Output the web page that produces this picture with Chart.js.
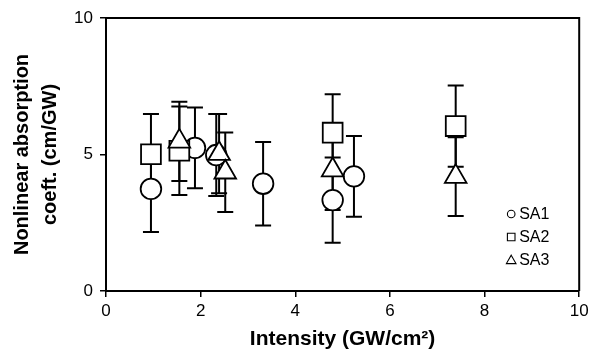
<!DOCTYPE html>
<html>
<head>
<meta charset="utf-8">
<script src="https://cdn.jsdelivr.net/npm/chart.js@4.4.1/dist/chart.umd.min.js"></script>
<style>
  html, body { margin: 0; padding: 0; background: #fff; }
  #wrap { width: 595px; height: 361px; }
</style>
</head>
<body>
<div id="wrap"><canvas id="chart"></canvas></div>
<script>
// Data (x: GW/cm2, y: cm/GW, err: +/- half length of error bar)
const sa1X = [0.95, 1.88, 2.33, 3.32, 4.79, 5.24];
const sa1Y = [3.74, 5.24, 4.98, 3.93, 3.33, 4.20];
const sa1Err = [1.58, 1.48, 1.50, 1.53, 1.56, 1.48];

const sa2X = [0.95, 1.55, 4.79, 7.39];
const sa2Y = [5.01, 5.14, 5.80, 6.04];
const sa2Err = [1.47, 1.62, 1.41, 1.49];

const sa3X = [1.55, 2.39, 2.52, 4.79, 7.39];
const sa3Y = [5.48, 5.03, 4.35, 4.43, 4.19];
const sa3Err = [1.45, 1.45, 1.46, 1.46, 1.44];

const seriesNames = ['SA1', 'SA2', 'SA3'];
const xTicks = [0, 2, 4, 6, 8, 10];
const yTicks = [0, 5, 10];

const FONT = "'Liberation Sans', Arial, sans-serif";

function toPoints(xs, ys, errs) {
    return xs.map((x, i) => ({ x: x, y: ys[i], err: errs[i] }));
}

// error bars drawn under the markers
const errorBars = {
    id: 'errorBars',
    beforeDatasetsDraw(chart) {
        const ctx = chart.ctx;
        const xs = chart.scales.x, ys = chart.scales.y;
        ctx.save();
        ctx.strokeStyle = '#000';
        ctx.lineWidth = 2;
        chart.data.datasets.forEach(ds => {
            ds.data.forEach(p => {
                const px = xs.getPixelForValue(p.x);
                const top = ys.getPixelForValue(p.y + p.err);
                const bot = ys.getPixelForValue(p.y - p.err);
                ctx.beginPath();
                ctx.moveTo(px, top); ctx.lineTo(px, bot);
                ctx.moveTo(px - 8, top); ctx.lineTo(px + 8, top);
                ctx.moveTo(px - 8, bot); ctx.lineTo(px + 8, bot);
                ctx.stroke();
            });
        });
        ctx.restore();
    }
};

// closes the box on top and right
const frame = {
    id: 'frame',
    beforeDatasetsDraw(chart) {
        const { ctx, chartArea } = chart;
        ctx.save();
        ctx.strokeStyle = '#000';
        ctx.lineWidth = 2;
        ctx.beginPath();
        ctx.moveTo(chartArea.left, chartArea.top);
        ctx.lineTo(chartArea.right, chartArea.top);
        ctx.lineTo(chartArea.right, chartArea.bottom);
        ctx.stroke();
        ctx.restore();
    }
};

// small legend in the lower right corner of the plot
const cornerLegend = {
    id: 'cornerLegend',
    afterDraw(chart) {
        const ctx = chart.ctx;
        const area = chart.chartArea;
        const mx = area.right - 68;
        const rows = [area.bottom - 77, area.bottom - 54, area.bottom - 31];
        ctx.save();
        ctx.strokeStyle = '#000';
        ctx.fillStyle = '#fff';
        ctx.lineWidth = 1.1;
        rows.forEach((y, i) => {
            ctx.beginPath();
            if (i === 0) {
                ctx.arc(mx, y, 3.8, 0, Math.PI * 2);
            } else if (i === 1) {
                ctx.rect(mx - 3.8, y - 3.8, 7.6, 7.6);
            } else {
                ctx.moveTo(mx, y - 4.8);
                ctx.lineTo(mx + 4.8, y + 3.6);
                ctx.lineTo(mx - 4.8, y + 3.6);
                ctx.closePath();
            }
            ctx.fill();
            ctx.stroke();
        });
        ctx.fillStyle = '#000';
        ctx.font = '16px ' + FONT;
        ctx.textBaseline = 'middle';
        ctx.textAlign = 'left';
        rows.forEach((y, i) => ctx.fillText(seriesNames[i], mx + 8, y + 1));
        ctx.restore();
    }
};

const ctx = document.getElementById('chart').getContext('2d');
new Chart(ctx, {
    type: 'scatter',
    data: {
        datasets: [{
            label: seriesNames[0],
            data: toPoints(sa1X, sa1Y, sa1Err),
            pointStyle: 'circle',
            pointRadius: 10.3,
            order: 2
        }, {
            label: seriesNames[1],
            data: toPoints(sa2X, sa2Y, sa2Err),
            pointStyle: 'rect',
            pointRadius: 14,
            order: 1
        }, {
            label: seriesNames[2],
            data: toPoints(sa3X, sa3Y, sa3Err),
            pointStyle: 'triangle',
            pointRadius: 12.5,
            order: 0
        }].map(ds => Object.assign(ds, {
            backgroundColor: '#fff',
            borderColor: '#000',
            borderWidth: 1.8,
            pointHoverRadius: ds.pointRadius,
            showLine: false
        }))
    },
    options: {
        responsive: true,
        maintainAspectRatio: false,
        animation: false,
        events: [],
        layout: { padding: { left: 0, right: 12, top: 18, bottom: 0 } },
        plugins: {
            legend: { display: false },
            tooltip: { enabled: false }
        },
        scales: {
            x: {
                type: 'linear',
                min: 0,
                max: 10,
                afterBuildTicks: (scale) => { scale.ticks = xTicks.map(v => ({ value: v })); },
                afterFit: (scale) => { scale.height = 70; },
                ticks: { color: '#000', font: { family: FONT, size: 17 }, padding: 4 },
                grid: { drawOnChartArea: false, drawTicks: true, tickLength: 6, color: '#000', lineWidth: 1.5 },
                border: { color: '#000', width: 2 },
                title: {
                    display: true,
                    text: 'Intensity (GW/cm²)',
                    color: '#000',
                    font: { family: FONT, size: 21, weight: 'bold', lineHeight: 1 },
                    padding: { top: 0, bottom: 11 }
                }
            },
            y: {
                type: 'linear',
                min: 0,
                max: 10,
                afterBuildTicks: (scale) => { scale.ticks = yTicks.map(v => ({ value: v })); },
                afterFit: (scale) => { scale.width = 106; },
                ticks: { color: '#000', font: { family: FONT, size: 17 }, padding: 7 },
                grid: { drawOnChartArea: false, drawTicks: true, tickLength: 6, color: '#000', lineWidth: 1.5 },
                border: { color: '#000', width: 2 },
                title: {
                    display: true,
                    text: ['Nonlinear absorption', 'coeft. (cm/GW)'],
                    color: '#000',
                    font: { family: FONT, size: 20, weight: 'bold', lineHeight: 1.4 },
                    padding: { top: 8, bottom: 0 }
                }
            }
        }
    },
    plugins: [errorBars, frame, cornerLegend]
});
</script>
</body>
</html>
